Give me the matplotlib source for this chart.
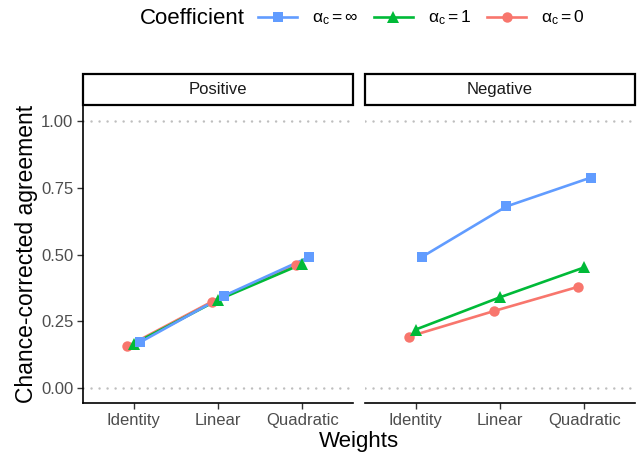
import numpy as np
import matplotlib
matplotlib.use("Agg")
import matplotlib.pyplot as plt
from matplotlib.lines import Line2D
from matplotlib.patches import Rectangle

plt.rcParams.update({
    'font.family': ['Liberation Sans', 'DejaVu Sans'],
    'mathtext.fontset': 'custom',
    'mathtext.rm': 'Liberation Sans',
    'mathtext.it': 'Liberation Sans:italic',
    'mathtext.sf': 'Liberation Sans',
})

weights = ["Identity", "Linear", "Quadratic"]
panels = ["Positive", "Negative"]
coef_labels = [r"$\mathrm{\alpha_c = \infty}$", r"$\mathrm{\alpha_c = 1}$", r"$\mathrm{\alpha_c = 0}$"]

# values: [panel][weight]
alpha_inf = [[0.171, 0.346, 0.490], [0.491, 0.680, 0.788]]
alpha_one = [[0.165, 0.330, 0.465], [0.219, 0.340, 0.452]]
alpha_zero = [[0.156, 0.323, 0.461], [0.193, 0.288, 0.379]]

# (values, colour, marker, size, dodge)
SERIES = [
    (alpha_zero, "#F8766D", "o", 7.5, -0.075),
    (alpha_one, "#00BA38", "^", 8.5, 0.0),
    (alpha_inf, "#619CFF", "s", 7.5, 0.075),
]

fig = plt.figure(figsize=(6.37, 4.54), dpi=100)
ax_w = 270 / 637
ax_b = (454 - 403) / 454
ax_h = (403 - 105) / 454
lefts = [83 / 637, 365 / 637]
x = np.arange(1, len(weights) + 1)

for p, name in enumerate(panels):
    ax = fig.add_axes([lefts[p], ax_b, ax_w, ax_h])
    for yv in (0, 1):
        ax.axhline(yv, color="#BEBEBE", lw=1.8, ls=(0, (0.01, 3.2)),
                   dash_capstyle="round", zorder=1)
    for vals, col, mk, ms, dx in SERIES:
        ax.plot(x + dx, vals[p], color=col, lw=1.9, zorder=2)
    for vals, col, mk, ms, dx in SERIES:
        ax.plot(x + dx, vals[p], color=col, lw=0, marker=mk, ms=ms,
                markeredgewidth=0, zorder=3)
    ax.set_xlim(0.4, 3.6)
    ax.set_ylim(-0.056, 1.06)
    ax.set_xticks(x)
    ax.set_xticklabels(weights)
    ax.set_yticks([0, 0.25, 0.5, 0.75, 1.0])
    ax.set_yticklabels(["0.00", "0.25", "0.50", "0.75", "1.00"])
    ax.tick_params(colors="#333333", labelcolor="#4D4D4D", labelsize=12,
                   length=4, width=1.0, pad=3)
    for s in ("top", "right"):
        ax.spines[s].set_visible(False)
    ax.spines["bottom"].set_linewidth(1.2)
    ax.spines["left"].set_linewidth(1.2)
    if p == 1:
        ax.spines["left"].set_visible(False)
        ax.tick_params(axis="y", left=False, labelleft=False)
    else:
        ax.set_ylabel("Chance-corrected agreement", fontsize=16.5, labelpad=2)
    # facet strip
    strip = Rectangle((0, 1.0), 1.0, 31 / 298, transform=ax.transAxes,
                      facecolor="white", edgecolor="black", lw=1.6,
                      clip_on=False)
    ax.add_patch(strip)
    ax.text(0.5, 1.0 + 15.5 / 298, name, transform=ax.transAxes,
            ha="center", va="center", fontsize=12, color="#1A1A1A")

fig.text((83 + 635) / 2 / 637, 1 - 441 / 454, "Weights", ha="center",
         va="center", fontsize=16)

# legend across the top
fig.text(140 / 637, 1 - 18 / 454, "Coefficient", ha="left", va="center",
         fontsize=16)
handles = [Line2D([], [], color=c, lw=1.9, marker=m, ms=s, markeredgewidth=0)
           for _, c, m, s, _ in [SERIES[2], SERIES[1], SERIES[0]]]
fig.legend(handles, coef_labels, loc="center left",
           bbox_to_anchor=(258 / 637, 1 - 18 / 454), ncol=3, frameon=False,
           fontsize=12.5, handlelength=2.25, columnspacing=0.9,
           handletextpad=0.86, borderaxespad=0, borderpad=0)

fig.savefig("out.png", dpi=100)
